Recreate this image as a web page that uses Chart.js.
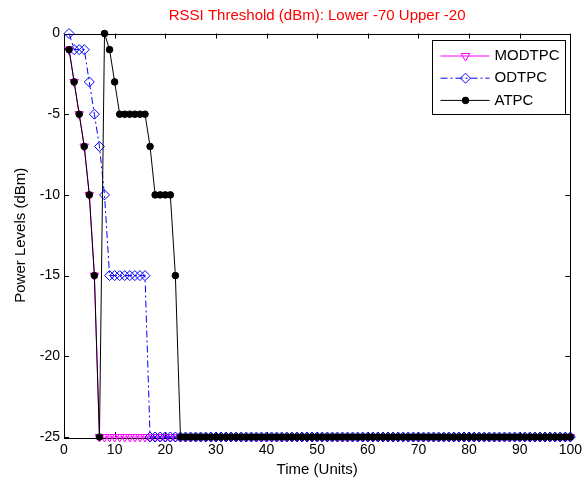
<!DOCTYPE html>
<html>
<head>
<meta charset="utf-8">
<title>RSSI Threshold</title>
<script src="https://cdn.jsdelivr.net/npm/chart.js@4/dist/chart.umd.min.js"></script>
<style>
  html, body { margin: 0; padding: 0; background: #fff; }
</style>
</head>
<body>
<canvas id="myChart" width="587" height="482"></canvas>
<script>
// time axis 1..100
const time = [
  1, 2, 3, 4, 5, 6, 7, 8, 9, 10,
  11, 12, 13, 14, 15, 16, 17, 18, 19, 20,
  21, 22, 23, 24, 25, 26, 27, 28, 29, 30,
  31, 32, 33, 34, 35, 36, 37, 38, 39, 40,
  41, 42, 43, 44, 45, 46, 47, 48, 49, 50,
  51, 52, 53, 54, 55, 56, 57, 58, 59, 60,
  61, 62, 63, 64, 65, 66, 67, 68, 69, 70,
  71, 72, 73, 74, 75, 76, 77, 78, 79, 80,
  81, 82, 83, 84, 85, 86, 87, 88, 89, 90,
  91, 92, 93, 94, 95, 96, 97, 98, 99, 100
];

const modtpc = [
  -1, -3, -5, -7, -10, -15, -25, -25, -25, -25,
  -25, -25, -25, -25, -25, -25, -25, -25, -25, -25,
  -25, -25, -25, -25, -25, -25, -25, -25, -25, -25,
  -25, -25, -25, -25, -25, -25, -25, -25, -25, -25,
  -25, -25, -25, -25, -25, -25, -25, -25, -25, -25,
  -25, -25, -25, -25, -25, -25, -25, -25, -25, -25,
  -25, -25, -25, -25, -25, -25, -25, -25, -25, -25,
  -25, -25, -25, -25, -25, -25, -25, -25, -25, -25,
  -25, -25, -25, -25, -25, -25, -25, -25, -25, -25,
  -25, -25, -25, -25, -25, -25, -25, -25, -25, -25
];

const odtpc = [
  0, -1, -1, -1, -3, -5, -7, -10, -15, -15,
  -15, -15, -15, -15, -15, -15, -25, -25, -25, -25,
  -25, -25, -25, -25, -25, -25, -25, -25, -25, -25,
  -25, -25, -25, -25, -25, -25, -25, -25, -25, -25,
  -25, -25, -25, -25, -25, -25, -25, -25, -25, -25,
  -25, -25, -25, -25, -25, -25, -25, -25, -25, -25,
  -25, -25, -25, -25, -25, -25, -25, -25, -25, -25,
  -25, -25, -25, -25, -25, -25, -25, -25, -25, -25,
  -25, -25, -25, -25, -25, -25, -25, -25, -25, -25,
  -25, -25, -25, -25, -25, -25, -25, -25, -25, -25
];

const atpc = [
  -1, -3, -5, -7, -10, -15, -25, 0, -1, -3,
  -5, -5, -5, -5, -5, -5, -7, -10, -10, -10,
  -10, -15, -25, -25, -25, -25, -25, -25, -25, -25,
  -25, -25, -25, -25, -25, -25, -25, -25, -25, -25,
  -25, -25, -25, -25, -25, -25, -25, -25, -25, -25,
  -25, -25, -25, -25, -25, -25, -25, -25, -25, -25,
  -25, -25, -25, -25, -25, -25, -25, -25, -25, -25,
  -25, -25, -25, -25, -25, -25, -25, -25, -25, -25,
  -25, -25, -25, -25, -25, -25, -25, -25, -25, -25,
  -25, -25, -25, -25, -25, -25, -25, -25, -25, -25
];

const seriesNames = ['MODTPC', 'ODTPC', 'ATPC'];
const xTicks = [0, 10, 20, 30, 40, 50, 60, 70, 80, 90, 100];
const yTicks = [0, -5, -10, -15, -20, -25];

const toPoints = vals => time.map((t, i) => ({ x: t, y: vals[i] }));

const FONT = '"Liberation Sans", Arial, sans-serif';
Chart.defaults.font.family = FONT;
Chart.defaults.font.size = 14;
Chart.defaults.color = '#000';

// MATLAB style box with inward ticks
const axesBox = {
  id: 'axesBox',
  beforeDatasetsDraw(chart) {
    const { ctx, chartArea: a, scales: { x, y } } = chart;
    ctx.save();
    ctx.strokeStyle = '#000';
    ctx.lineWidth = 1;
    ctx.beginPath();
    x.ticks.forEach(t => {
      const px = Math.round(x.getPixelForValue(t.value)) + 0.5;
      ctx.moveTo(px, a.bottom); ctx.lineTo(px, a.bottom - 5);
      ctx.moveTo(px, a.top); ctx.lineTo(px, a.top + 5);
    });
    y.ticks.forEach(t => {
      const py = Math.round(y.getPixelForValue(t.value)) + 0.5;
      ctx.moveTo(a.left, py); ctx.lineTo(a.left + 5, py);
      ctx.moveTo(a.right, py); ctx.lineTo(a.right - 5, py);
    });
    ctx.stroke();
    ctx.strokeRect(Math.round(a.left) + 0.5, Math.round(a.top) + 0.5,
      Math.round(a.right - a.left), Math.round(a.bottom - a.top));
    ctx.restore();
  }
};

// legend: line + marker + name, in a box at top right
const legendBox = {
  id: 'legendBox',
  afterDatasetsDraw(chart) {
    const { ctx, chartArea: a } = chart;
    const x0 = Math.round(a.right - 138) + 0.5;
    const y0 = Math.round(a.top + 6) + 0.5;
    const w = 133, h = 74;
    ctx.save();
    ctx.fillStyle = '#fff';
    ctx.fillRect(x0, y0, w, h);
    ctx.strokeStyle = '#000';
    ctx.lineWidth = 1;
    ctx.strokeRect(x0, y0, w, h);
    chart.data.datasets.forEach((ds, i) => {
      const cy = y0 + 15.5 + i * 22.2;
      ctx.strokeStyle = ds.borderColor;
      ctx.lineWidth = ds.borderWidth;
      ctx.setLineDash(ds.borderDash || []);
      ctx.beginPath();
      ctx.moveTo(x0 + 8, cy);
      ctx.lineTo(x0 + 57, cy);
      ctx.stroke();
      ctx.setLineDash([]);
      ctx.fillStyle = ds.pointBackgroundColor;
      ctx.strokeStyle = ds.pointBorderColor;
      ctx.lineWidth = ds.pointBorderWidth;
      Chart.helpers.drawPoint(ctx, {
        pointStyle: ds.pointStyle,
        rotation: ds.pointRotation || 0,
        radius: ds.pointRadius,
        borderWidth: ds.pointBorderWidth
      }, x0 + 33, cy);
      ctx.fillStyle = '#000';
      ctx.font = '15px ' + FONT;
      ctx.textBaseline = 'middle';
      ctx.fillText(ds.label, x0 + 62, cy);
    });
    ctx.restore();
  }
};

const ctx = document.getElementById('myChart').getContext('2d');
const myChart = new Chart(ctx, {
  type: 'line',
  data: {
    datasets: [
      {
        label: seriesNames[0],
        data: toPoints(modtpc),
        borderColor: '#ff00ff',
        borderWidth: 1,
        pointStyle: 'triangle',
        pointRotation: 180,
        pointRadius: 5,
        pointBorderWidth: 1,
        pointBorderColor: '#ff00ff',
        pointBackgroundColor: 'rgba(0,0,0,0)',
        order: 2,
        clip: false
      },
      {
        label: seriesNames[1],
        data: toPoints(odtpc),
        borderColor: '#0000ff',
        borderWidth: 1,
        borderDash: [7, 3, 2, 3],
        pointStyle: 'rectRot',
        pointRadius: 5,
        pointBorderWidth: 1,
        pointBorderColor: '#0000ff',
        pointBackgroundColor: 'rgba(0,0,0,0)',
        order: 1,
        clip: false
      },
      {
        label: seriesNames[2],
        data: toPoints(atpc),
        borderColor: '#000000',
        borderWidth: 1,
        pointStyle: 'circle',
        pointRadius: 3.3,
        pointBorderWidth: 1,
        pointBorderColor: '#000000',
        pointBackgroundColor: '#000000',
        order: 0,
        clip: false
      }
    ]
  },
  options: {
    responsive: false,
    animation: false,
    layout: { padding: { left: 0, right: 14, top: 0, bottom: 0 } },
    plugins: {
      legend: { display: false },
      tooltip: { enabled: false },
      title: {
        display: true,
        text: 'RSSI Threshold (dBm): Lower -70 Upper -20',
        color: '#ff0000',
        fullSize: false,
        font: { size: 15, weight: 'normal' },
        padding: { top: 7, bottom: 8.5 }
      }
    },
    elements: { line: { tension: 0 } },
    scales: {
      x: {
        type: 'linear',
        min: 0,
        max: 100,
        afterFit: s => { s.height = 45; },
        afterBuildTicks: s => { s.ticks = xTicks.map(v => ({ value: v })); },
        grid: { display: false, drawTicks: false },
        border: { display: false },
        ticks: { padding: 5, autoSkip: false, maxRotation: 0 },
        title: { display: true, text: 'Time (Units)', font: { size: 15 }, padding: { top: 0, bottom: 3 } }
      },
      y: {
        type: 'linear',
        min: -25,
        max: 0,
        afterFit: s => { s.width = 64; },
        afterBuildTicks: s => { s.ticks = yTicks.map(v => ({ value: v })); },
        grid: { display: false, drawTicks: false },
        border: { display: false },
        ticks: { padding: 4, autoSkip: false },
        title: { display: true, text: 'Power Levels (dBm)', font: { size: 15 }, padding: { top: 11.5, bottom: 0 } }
      }
    }
  },
  plugins: [axesBox, legendBox]
});
</script>
</body>
</html>
